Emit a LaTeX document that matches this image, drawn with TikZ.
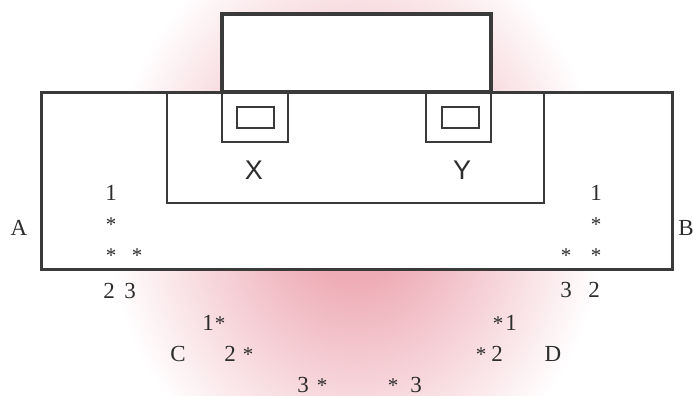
\documentclass[tikz,border=0pt]{standalone}
\usepackage{fontspec}
\setmainfont{Liberation Serif}
\newfontfamily\sansf{Liberation Sans}
\definecolor{glowc}{RGB}{238,172,182}
\definecolor{linec}{RGB}{58,58,58}
\definecolor{txtc}{RGB}{45,45,45}
\pgfdeclareradialshading{glow}{\pgfpoint{0bp}{0bp}}{color(0bp)=(glowc); color(6bp)=(glowc); color(25bp)=(white); color(50bp)=(white)}
\tikzset{
  lbl/.style={anchor=base, inner sep=0pt, text=txtc, font=\fontsize{23}{23}\selectfont},
  star/.style={anchor=base, inner sep=0pt, text=txtc, font=\fontsize{21}{21}\selectfont},
  big/.style={anchor=center, inner sep=0pt, text=txtc, font=\sansf\fontsize{27}{27}\selectfont},
  frame/.style={draw=linec, line width=3pt},
  thickframe/.style={draw=linec, line width=4pt},
  thinframe/.style={draw=linec, line width=2.5pt},
}
\begin{document}
\begin{tikzpicture}[x=1pt,y=-1pt]
\useasboundingbox (0,0) rectangle (693,396);
\begin{scope}
\clip (0,0) rectangle (693,396);
\fill[white] (0,0) rectangle (693,396);
\shade[shading=glow] (356,210) ellipse [x radius=250, y radius=290];
\end{scope}
% big rectangle
\fill[white] (41,92) rectangle (672,269);
\fill[white] (222,14) rectangle (491,92);
\draw[frame] (41,92) rectangle (672,269);
% inner U
\draw[thinframe] (167,92) -- (167,203) -- (544,203) -- (544,92);
% X and Y squares
\draw[thinframe] (222,92) rectangle (288,142);
\draw[thinframe] (237,107) rectangle (274,128);
\draw[thinframe] (426,92) rectangle (491,142);
\draw[thinframe] (442,107) rectangle (479,128);
% top box
\draw[thickframe] (222,14) rectangle (491,92);
% X, Y labels
\node[big] (X) at (254,170) {X};
\node[big] (Y) at (462,170) {Y};
% side labels
\node[lbl] (A) at (19,235) {A};
\node[lbl] (B) at (686,235) {B};
% left column
\node[lbl] (l1) at (111,200) {1};
\node[star] (ls1) at (111,231) {*};
\node[star] (ls2) at (111,262) {*};
\node[star] (ls3) at (137,262) {*};
\node[lbl] (l2) at (109,298) {2};
\node[lbl] (l3) at (130,298) {3};
% right column
\node[lbl] (r1) at (596,200) {1};
\node[star] (rs1) at (596,231) {*};
\node[star] (rs3) at (566,262) {*};
\node[star] (rs2) at (596,262) {*};
\node[lbl] (r3) at (566,297) {3};
\node[lbl] (r2) at (594,297) {2};
% bottom C side
\node[lbl] (c1) at (208,330) {1};
\node[star] (cs1) at (220,330) {*};
\node[lbl] (C) at (178,361) {C};
\node[lbl] (c2) at (230,361) {2};
\node[star] (cs2) at (248,361) {*};
\node[lbl] (c3) at (303,392) {3};
\node[star] (cs3) at (322,392) {*};
% bottom D side
\node[star] (ds3) at (393,392) {*};
\node[lbl] (d3) at (416,392) {3};
\node[star] (ds1) at (498,330) {*};
\node[lbl] (d1) at (511,330) {1};
\node[star] (ds2) at (481,361) {*};
\node[lbl] (d2) at (497,361) {2};
\node[lbl] (D) at (553,361) {D};
\end{tikzpicture}
\end{document}
